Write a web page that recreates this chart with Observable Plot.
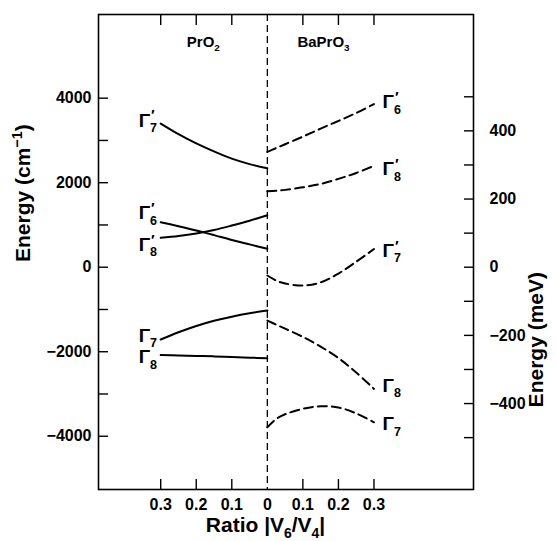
<!DOCTYPE html>
<html><head><meta charset="utf-8">
<script src="https://cdn.jsdelivr.net/npm/d3@7"></script>
<script src="https://cdn.jsdelivr.net/npm/@observablehq/plot@0.6"></script>
<style>
html,body{margin:0;padding:0;background:#fff}
#chart svg{display:block}
</style>
</head><body><div id="chart"></div>
<script>
// ---- data (energies in cm^-1) ----
const CM_PER_MEV = 8.0655;

const prRatio = [0, 0.05, 0.1, 0.15, 0.2, 0.25, 0.3];
const prG7p = [2340, 2440, 2570, 2740, 2930, 3150, 3400];
const prG6p = [435, 540, 645, 760, 870, 970, 1065];
const prG8p = [1230, 1100, 985, 880, 800, 740, 696];
const prG7  = [-1025, -1090, -1170, -1265, -1390, -1540, -1711];
const prG8  = [-2154, -2140, -2125, -2110, -2100, -2090, -2080];

const baRatio = [0, 0.025, 0.05, 0.1, 0.15, 0.2, 0.25, 0.3];
const baG6p = [2730, 2820, 2910, 3090, 3280, 3460, 3650, 3860];
const baG8p = [1800, 1810, 1830, 1890, 1970, 2090, 2230, 2400];
const baG7p = [-196, -315, -385, -433, -360, -150, 130, 430];
const baG8  = [-1262, -1360, -1455, -1650, -1880, -2150, -2490, -2880];
const baG7  = [-3787, -3590, -3480, -3350, -3290, -3320, -3460, -3670];

const xTicks = [-0.3, -0.2, -0.1, 0.1, 0.2, 0.3];
const xTickLabels = [-0.3, -0.2, -0.1, 0, 0.1, 0.2, 0.3];
const cmTicks = [-4000, -3000, -2000, -1000, 0, 1000, 2000, 3000, 4000];
const cmTickLabels = [-4000, -2000, 0, 2000, 4000];
const meVTicks = [-500, -400, -300, -200, -100, 0, 100, 200, 300, 400, 500];
const meVTickLabels = [-400, -200, 0, 200, 400];

// level labels: side (-1 PrO2, +1 BaPrO3), subscript, prime, label anchor (ratio, energy)
const lblSide   = [-1, -1, -1, -1, -1, 1, 1, 1, 1, 1];
const lblSub    = ["₇", "₆", "₈", "₇", "₈", "₆", "₈", "₇", "₈", "₇"];
const lblPrime  = [true, true, true, false, false, true, true, true, false, false];
const lblRatio  = [0.362, 0.362, 0.362, 0.362, 0.362, 0.324, 0.324, 0.324, 0.324, 0.324];
const lblEnergy = [3472, 1283, 537, -1617, -2125, 3905, 2329, 395, -2800, -3707];

const compoundNames = ["PrO₂", "BaPrO₃"];
const compoundX = [-0.18, 0.158];
const compoundEnergy = [5330, 5330];

// ---- build tables ----
function rows(side, ratios, level, energies) {
  return ratios.map((r, i) => ({level, x: side * r, energy: energies[i]}));
}
const prData = [
  ...rows(-1, prRatio, "G7p", prG7p),
  ...rows(-1, prRatio, "G6p", prG6p),
  ...rows(-1, prRatio, "G8p", prG8p),
  ...rows(-1, prRatio, "G7", prG7),
  ...rows(-1, prRatio, "G8", prG8)
];
const baData = [
  ...rows(1, baRatio, "G6p", baG6p),
  ...rows(1, baRatio, "G8p", baG8p),
  ...rows(1, baRatio, "G7p", baG7p),
  ...rows(1, baRatio, "G8", baG8),
  ...rows(1, baRatio, "G7", baG7)
];
const labels = lblSide.map((s, i) => ({
  x: s * lblRatio[i], energy: lblEnergy[i], text: "Γ" + lblSub[i] + (lblPrime[i] ? "′" : "")
}));
const compounds = compoundNames.map((n, i) => ({name: n, x: compoundX[i], energy: compoundEnergy[i]}));

const fmtSigned = v => (v < 0 ? "\u2212" : "") + Math.abs(v);
const FONT = "'Liberation Sans', Arial, Helvetica, sans-serif";

const chart = Plot.plot({
  width: 556,
  height: 541,
  marginLeft: 98,
  marginRight: 83,
  marginTop: 14,
  marginBottom: 52,
  style: {fontFamily: FONT, fontWeight: "bold", fontSize: "16px", background: "#fff", color: "#000"},
  x: {domain: [-0.475, 0.58]},
  y: {domain: [-5260, 5980]},
  marks: [
    Plot.frame({stroke: "#000", strokeWidth: 1.6}),
    Plot.ruleX([0], {stroke: "#000", strokeWidth: 1.3, strokeDasharray: "7,4"}),
    Plot.line(prData, {x: "x", y: "energy", z: "level", curve: "catmull-rom", stroke: "#000", strokeWidth: 2}),
    Plot.line(baData, {x: "x", y: "energy", z: "level", curve: "catmull-rom", stroke: "#000", strokeWidth: 2, strokeDasharray: "9,5"}),
    // left axis
    Plot.axisY({anchor: "left", ticks: cmTicks, tickSize: -10, tickFormat: () => "", label: null, strokeWidth: 1.4}),
    Plot.axisY({anchor: "left", ticks: cmTickLabels, tickSize: 0, tickPadding: 7, tickFormat: fmtSigned, label: null, fontSize: 16}),
    // right axis (meV)
    Plot.axisY({anchor: "right", ticks: meVTicks.map(m => m * CM_PER_MEV), tickSize: -10, tickFormat: () => "", label: null, strokeWidth: 1.4}),
    Plot.axisY({anchor: "right", ticks: meVTickLabels.map(m => m * CM_PER_MEV), tickSize: 0, tickPadding: 16,
      tickFormat: d => fmtSigned(Math.round(d / CM_PER_MEV)), label: null, fontSize: 16}),
    // x axes
    Plot.axisX({anchor: "bottom", ticks: xTicks, tickSize: -10, tickFormat: () => "", label: null, strokeWidth: 1.4}),
    Plot.axisX({anchor: "top", ticks: xTicks, tickSize: -10, tickFormat: () => "", label: null, strokeWidth: 1.4}),
    Plot.axisX({anchor: "bottom", ticks: xTickLabels, tickSize: 0, tickPadding: 9,
      tickFormat: d => String(Math.abs(d)), label: null, fontSize: 16}),
    // axis titles
    Plot.text(["Energy (cm⁻¹)"], {frameAnchor: "left", rotate: -90, dx: -75, dy: 10, fontSize: 21, fill: "#000"}),
    Plot.text(["Energy (meV)"], {frameAnchor: "right", rotate: -90, dx: 63, dy: 20, fontSize: 21, fill: "#000"}),
    Plot.text(["Ratio |V₆/V₄|"], {frameAnchor: "bottom", dx: -20.5, dy: 42, fontSize: 21, fill: "#000"}),
    // compound labels
    Plot.text(compounds, {x: "x", y: "energy", text: "name", fontSize: 15, fill: "#000"}),
    // level labels
    Plot.text(labels, {x: "x", y: "energy", text: "text", textAnchor: "start", fontSize: 19, fill: "#000"})
  ]
});
document.getElementById("chart").appendChild(chart);

// turn unicode sub/superscripts into real tspans (text stays text)
const SUB = "₀₁₂₃₄₅₆₇₈₉", SUP = "⁰¹²³⁴⁵⁶⁷⁸⁹";
chart.querySelectorAll("text").forEach(t => {
  const s = t.textContent;
  if (!/[₀-₉⁰-⁹⁻′]/.test(s)) return;
  const fs = parseFloat(getComputedStyle(t).fontSize) || 16;
  const runs = [];
  for (const ch of s) {
    let type = "n", c = ch, k;
    if ((k = SUB.indexOf(ch)) >= 0) { type = "sub"; c = String(k); }
    else if ((k = SUP.indexOf(ch)) >= 0) { type = "sup"; c = String(k); }
    else if (ch === "⁻") { type = "sup"; c = "\u2212"; }
    else if (ch === "′") { type = "prime"; }
    const last = runs[runs.length - 1];
    if (last && last.type === type) last.text += c; else runs.push({type, text: c});
  }
  while (t.firstChild) t.removeChild(t.firstChild);
  let shift = 0, prevSubLen = 0;
  for (const r of runs) {
    const ts = document.createElementNS("http://www.w3.org/2000/svg", "tspan");
    let target = 0, size = null;
    if (r.type === "sub") { target = 0.3 * fs; size = 0.66 * fs; }
    else if (r.type === "sup") { target = -0.4 * fs; size = 0.68 * fs; }
    else if (r.type === "prime") {
      target = -0.32 * fs; size = 0.8 * fs;
      if (prevSubLen) ts.setAttribute("dx", (-0.556 * 0.66 * fs * prevSubLen + 1).toFixed(1));
    }
    if (target !== shift) ts.setAttribute("dy", (target - shift).toFixed(1));
    shift = target;
    if (size) ts.setAttribute("font-size", size.toFixed(1));
    prevSubLen = r.type === "sub" ? r.text.length : 0;
    ts.textContent = r.text;
    t.appendChild(ts);
  }
});
</script>
</body></html>
